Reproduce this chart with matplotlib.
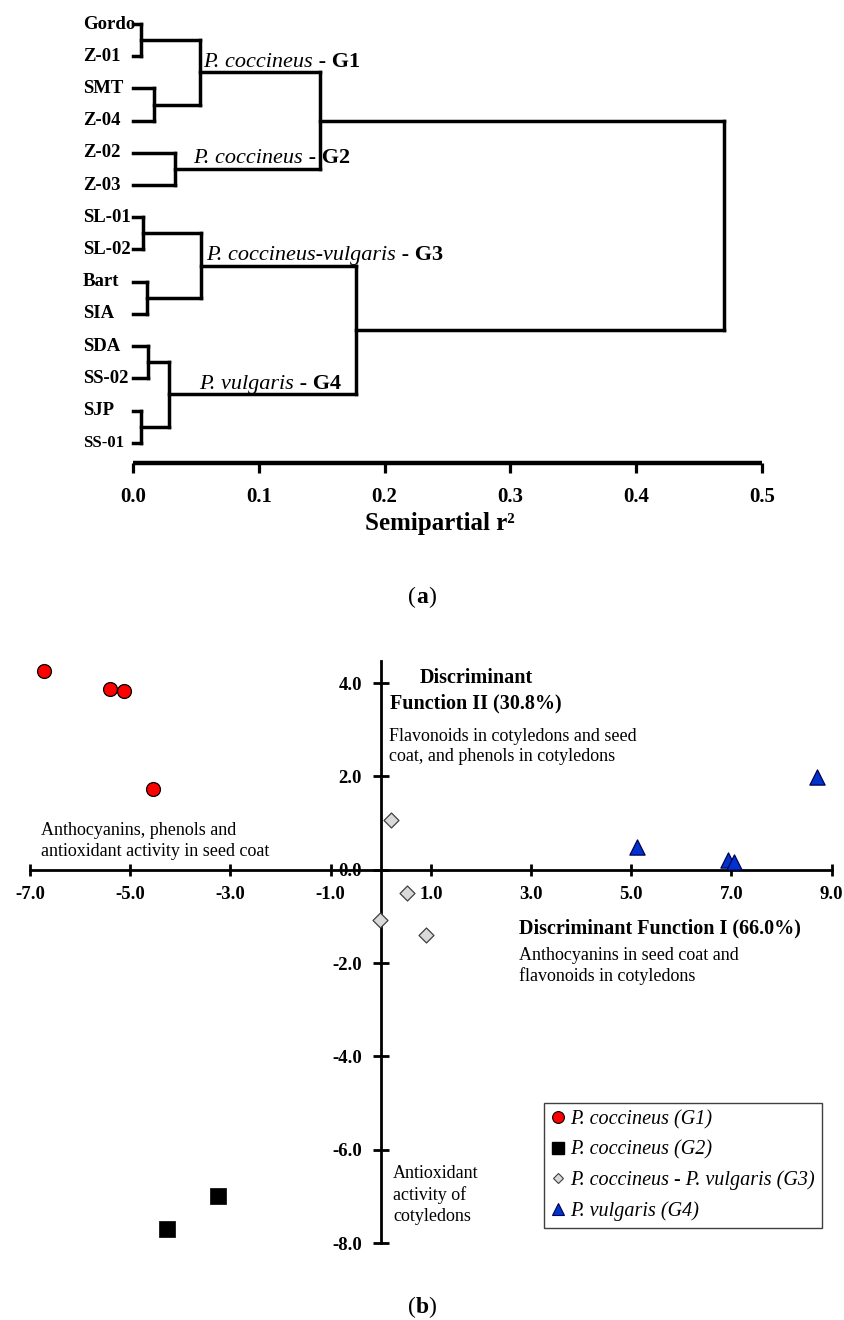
import matplotlib.pyplot as plt
from matplotlib.lines import Line2D
from matplotlib import transforms

plt.rcParams['font.family'] = ['Liberation Serif', 'DejaVu Serif']

# ---- (a) dendrogram data ----
leaves = ['Gordo', 'Z-01', 'SMT', 'Z-04', 'Z-02', 'Z-03', 'SL-01', 'SL-02',
          'Bart', 'SIA', 'SDA', 'SS-02', 'SJP', 'SS-01']
# merge k creates node 14+k from (merge_a[k], merge_b[k]) at height merge_h[k]
merge_a = [0, 2, 14, 4, 16, 6, 8, 19, 10, 12, 22, 21, 18]
merge_b = [1, 3, 15, 5, 17, 7, 9, 20, 11, 13, 23, 24, 25]
merge_h = [0.006, 0.017, 0.053, 0.033, 0.149, 0.008, 0.011, 0.054,
           0.012, 0.006, 0.029, 0.177, 0.470]
group_species = ['P. coccineus', 'P. coccineus', 'P. coccineus-vulgaris', 'P. vulgaris']
group_tags = ['G1', 'G2', 'G3', 'G4']
group_nodes = [16, 17, 21, 24]
r2_ticks = [0.0, 0.1, 0.2, 0.3, 0.4, 0.5]

# ---- (b) discriminant scores ----
g1_x = [-6.73, -5.41, -5.12, -4.55]
g1_y = [4.26, 3.87, 3.83, 1.73]
g2_x = [-3.24, -4.26]
g2_y = [-7.00, -7.71]
g3_x = [0.20, 0.53, -0.02, 0.91]
g3_y = [1.07, -0.49, -1.07, -1.41]
g4_x = [5.12, 8.70, 6.93, 7.05]
g4_y = [0.49, 1.99, 0.21, 0.17]
legend_labels = ['P. coccineus (G1)', 'P. coccineus (G2)',
                 'P. coccineus - P. vulgaris (G3)', 'P. vulgaris (G4)']
df_x_ticks = [-7, -5, -3, -1, 1, 3, 5, 7, 9]
df_y_ticks = [4, 2, 0, -2, -4, -6, -8]

W, H = 845, 1320
fig = plt.figure(figsize=(W / 100, H / 100), dpi=100)


def fig_box(left, top, right, bottom):
    return [left / W, 1 - bottom / H, (right - left) / W, (bottom - top) / H]


# ================= (a) =================
ax = fig.add_axes(fig_box(133, 8, 762, 463))
ax.set_xlim(0, 0.5)
ax.set_ylim(13.63, -0.497)

pos_y = list(range(len(leaves)))
pos_h = [0.0] * len(leaves)
lw_tree = 2.5
for a, b, h in zip(merge_a, merge_b, merge_h):
    for c in (a, b):
        ax.plot([pos_h[c], h], [pos_y[c], pos_y[c]], color='black', lw=lw_tree,
                solid_capstyle='projecting', clip_on=False)
    ax.plot([h, h], [pos_y[a], pos_y[b]], color='black', lw=lw_tree,
            solid_capstyle='projecting', clip_on=False)
    pos_y.append((pos_y[a] + pos_y[b]) / 2)
    pos_h.append(h)

lab_tr = transforms.blended_transform_factory(fig.transFigure, ax.transData)
for i, name in enumerate(leaves):
    size = 12 if name == 'SS-01' else 13.5
    ax.text(83 / W, i, name, transform=lab_tr, ha='left', va='center',
            fontsize=size, fontweight='bold')

label_x = [0.0556, 0.0477, 0.058, 0.0525]
for sp, tag, node, lx in zip(group_species, group_tags, group_nodes, label_x):
    t1 = ax.annotate(sp, xy=(lx, pos_y[node]), xytext=(0, 0.5),
                     textcoords='offset points', fontsize=16, fontstyle='italic',
                     ha='left', va='bottom', annotation_clip=False)
    ax.annotate(' - ' + tag, xy=(1, 0), xycoords=t1, fontsize=16,
                fontweight='bold', ha='left', va='bottom')

for s in ['top', 'right', 'left']:
    ax.spines[s].set_visible(False)
ax.spines['bottom'].set_linewidth(3.2)
ax.spines['bottom'].set_bounds(0, 0.5)
ax.spines['bottom'].set_capstyle('butt')
ax.set_yticks([])
ax.set_xticks(r2_ticks)
ax.set_xticklabels([f'{v:.1f}' for v in r2_ticks], fontsize=15, fontweight='bold')
ax.tick_params(axis='x', direction='out', length=7.5, width=2.3, pad=10)
ax.set_xlabel('Semipartial r²', fontsize=18, fontweight='bold')
ax.xaxis.set_label_coords(0.488, -0.108)
ax.patch.set_visible(False)


def panel_label(letter, x, y):
    t = fig.text(x / W, 1 - y / H, letter, fontsize=17, fontweight='bold',
                 ha='center', va='baseline')
    plt.annotate('(', xy=(0, 0), xycoords=t, fontsize=17, ha='right', va='bottom')
    plt.annotate(')', xy=(1, 0), xycoords=t, fontsize=17, ha='left', va='bottom')


panel_label('a', 422, 603)

# ================= (b) =================
bx = fig.add_axes(fig_box(10, 655, 841.7, 1257))
bx.set_xlim(-7.4, 9.2)
bx.set_ylim(-8.3, 4.6)
bx.patch.set_visible(False)

bx.scatter(g1_x, g1_y, s=100, marker='o', c='#ff0000', edgecolors='black',
           linewidths=0.9, zorder=3, clip_on=False)
bx.scatter(g2_x, g2_y, s=130, marker='s', c='black', edgecolors='black',
           linewidths=0.5, zorder=3, clip_on=False)
bx.scatter(g3_x, g3_y, s=58, marker='D', c='#d9d9d9', edgecolors='#404040',
           linewidths=0.9, zorder=3, clip_on=False)
bx.scatter(g4_x, g4_y, s=120, marker='^', c='#0033cc', edgecolors='#000055',
           linewidths=0.9, zorder=3, clip_on=False)

for s in ['top', 'right']:
    bx.spines[s].set_visible(False)
bx.spines['left'].set_position('zero')
bx.spines['bottom'].set_position('zero')
bx.spines['left'].set_bounds(-8, 4.47)
bx.spines['bottom'].set_bounds(-7, 9)
bx.spines['left'].set_linewidth(2)
bx.spines['bottom'].set_linewidth(2)

bx.set_xticks(df_x_ticks)
bx.set_xticklabels([f'{v:.1f}' for v in df_x_ticks], fontsize=13.5, fontweight='bold')
bx.set_yticks(df_y_ticks)
bx.set_yticklabels([f'{v:.1f}' for v in df_y_ticks], fontsize=13.5, fontweight='bold')
bx.tick_params(axis='x', direction='inout', length=9, width=2, pad=7)
bx.tick_params(axis='y', direction='inout', length=11, width=2, pad=8)

bx.text(1.90, 3.83, 'Discriminant\nFunction II (30.8%)', fontsize=14.5,
        fontweight='bold', ha='center', va='center', multialignment='center',
        linespacing=1.35)
bx.text(0.17, 2.64, 'Flavonoids in cotyledons and seed\ncoat, and phenols in cotyledons',
        fontsize=13, ha='left', va='center', linespacing=1.3)
bx.text(-6.78, 0.615, 'Anthocyanins, phenols and\nantioxidant activity in seed coat',
        fontsize=13, ha='left', va='center', linespacing=1.35)
bx.text(2.75, -1.27, 'Discriminant Function I (66.0%)', fontsize=14.5,
        fontweight='bold', ha='left', va='center')
bx.text(2.75, -2.06, 'Anthocyanins in seed coat and\nflavonoids in cotyledons',
        fontsize=13, ha='left', va='center', linespacing=1.25)
bx.text(0.25, -6.97, 'Antioxidant\nactivity of\ncotyledons', fontsize=13,
        ha='left', va='center', linespacing=1.3)

handles = [
    Line2D([], [], ls='none', marker='o', ms=8.5, mfc='#ff0000', mec='black', mew=0.8),
    Line2D([], [], ls='none', marker='s', ms=8, mfc='black', mec='black'),
    Line2D([], [], ls='none', marker='D', ms=5.5, mfc='#d9d9d9', mec='#404040', mew=0.8),
    Line2D([], [], ls='none', marker='^', ms=8, mfc='#0033cc', mec='#000055', mew=0.8),
]
leg = bx.legend(handles, legend_labels, loc='upper left',
                bbox_to_anchor=(544 / W, 1 - 1103 / H), bbox_transform=fig.transFigure,
                borderaxespad=0, prop=dict(style='italic', size=14.5),
                handlelength=0.7, handletextpad=0.25, labelspacing=0.55,
                borderpad=0.35, fancybox=False, framealpha=1)
leg.get_frame().set_edgecolor('#404040')
leg.get_frame().set_linewidth(1.0)

panel_label('b', 422, 1313)

fig.savefig('out.png', dpi=100)
